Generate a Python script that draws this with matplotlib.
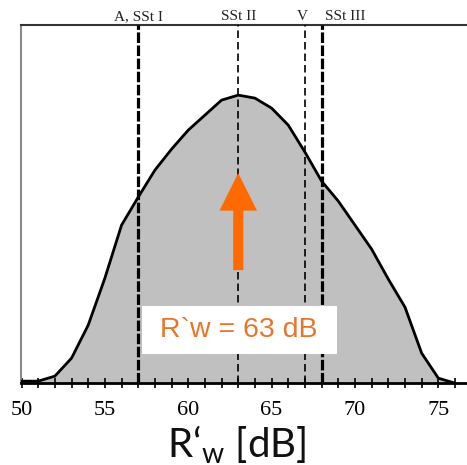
import matplotlib
matplotlib.use("Agg")
import matplotlib.pyplot as plt

# ---- data ----
x_db = [50, 51, 52, 53, 54, 55, 56, 57, 58, 59, 60, 61, 62, 63,
        64, 65, 66, 67, 68, 69, 70, 71, 72, 73, 74, 75, 76]
share = [2, 2, 7, 25, 58, 105, 158, 186, 213, 234, 253, 268, 283, 288,
         285, 275, 258, 231, 202, 182, 158, 134, 104, 76, 30, 5, 0]

ref_lines = [57, 63, 67, 68]
ref_labels = ["A, SSt I", "SSt II", "V", "SSt III"]

rw_value = 63
rw_text = " R`w = 63 dB "
major_ticks = [50, 55, 60, 65, 70, 75]
minor_ticks = list(range(50, 77))

plt.rcParams["mathtext.fontset"] = "custom"
plt.rcParams["mathtext.rm"] = "Lato"

fig = plt.figure(figsize=(4.67, 4.65), dpi=100)
ax = fig.add_axes([0.045, 0.176, 0.955, 0.770])

ax.fill_between(x_db, share, 0, color="#c0c0c0", zorder=1)
ax.plot(x_db, share, color="black", lw=2.0, zorder=3, solid_joinstyle="round")

styles = [
    dict(lw=2.3, ls=(0, (3.3, 0.8))),
    dict(lw=1.2, ls=(0, (4.5, 2.4))),
    dict(lw=1.2, ls=(0, (4.5, 2.4))),
    dict(lw=2.3, ls=(0, (3.3, 0.8))),
]
for xv, st in zip(ref_lines, styles):
    ax.axvline(xv, color="black", lw=st["lw"], linestyle=st["ls"], zorder=4)

# labels above the top spine
label_ha = ["center", "center", "center", "left"]
label_dx = [0, 0, -0.15, 0.2]
for xv, lab, ha, dx in zip(ref_lines, ref_labels, label_ha, label_dx):
    ax.text(xv + dx, 1.005, lab, transform=ax.get_xaxis_transform(),
            ha=ha, va="bottom", fontsize=11, family="Liberation Serif",
            color="#222222")

ax.set_xlim(49.97, 76.72)
ax.set_ylim(0, 358)

# arrow
ax.annotate("", xy=(rw_value, 210), xytext=(rw_value, 113),
            arrowprops=dict(arrowstyle="simple,head_length=1.0,head_width=1.0,tail_width=0.27",
                            mutation_scale=27, color="#FF6A00", shrinkA=0, shrinkB=0, lw=0),
            zorder=5)

ax.text(rw_value + 0.05, 53, rw_text, ha="center", va="center",
        fontsize=20.5, family="Liberation Sans", color="#E8762A", zorder=6,
        bbox=dict(boxstyle="square,pad=0.38", facecolor="white", edgecolor="none"))

ax.set_xticks(major_ticks)
ax.set_xticks(minor_ticks, minor=True)
ax.set_xticklabels([str(t) for t in major_ticks], family="Liberation Serif",
                   fontsize=16)
ax.tick_params(axis="x", which="both", direction="inout", length=7, width=1.2,
               color="black", pad=9)
ax.set_yticks([])

ax.spines["right"].set_visible(False)
ax.spines["top"].set_color("#333333")
ax.spines["top"].set_linewidth(1.5)
ax.spines["left"].set_color("#8a8a8a")
ax.spines["left"].set_linewidth(1.5)
ax.spines["bottom"].set_color("black")
ax.spines["bottom"].set_linewidth(2.0)
ax.spines["bottom"].set_zorder(7)

ax.set_xlabel("R‘$_{\\mathrm{w}}$ [dB]", family="Lato", fontsize=29, color="#111111")
ax.xaxis.set_label_coords(0.484, -0.112)

fig.savefig("out.png", dpi=100)
